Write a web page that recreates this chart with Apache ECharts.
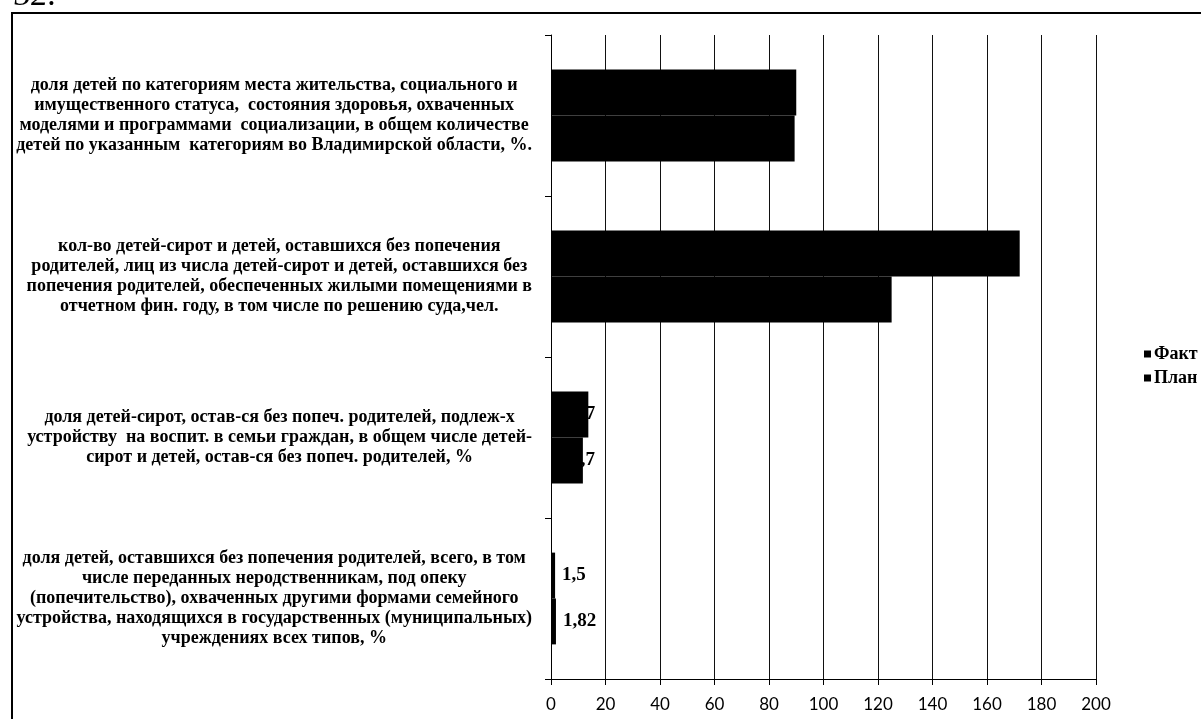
<!DOCTYPE html>
<html>
<head>
<meta charset="utf-8">
<script src="https://cdn.jsdelivr.net/npm/echarts@6/dist/echarts.min.js"></script>
<style>
html,body{margin:0;padding:0;background:#fff;}
#chart{width:1201px;height:719px;}
</style>
</head>
<body>
<div id="chart"></div>
<script>
// Categories listed bottom-to-top (as in the original Excel bar chart)
const categories = [
  ['доля детей, оставшихся без попечения родителей, всего, в том',
   'числе переданных неродственникам, под опеку',
   '(попечительство), охваченных другими формами семейного',
   'устройства, находящихся в государственных (муниципальных)',
   'учреждениях всех типов, %'],
  ['доля детей-сирот, остав-ся без попеч. родителей, подлеж-х',
   'устройству  на воспит. в семьи граждан, в общем числе детей-',
   'сирот и детей, остав-ся без попеч. родителей, %'],
  ['кол-во детей-сирот и детей, оставшихся без попечения',
   'родителей, лиц из числа детей-сирот и детей, оставшихся без',
   'попечения родителей, обеспеченных жилыми помещениями в',
   'отчетном фин. году, в том числе по решению суда,чел.'],
  ['доля детей по категориям места жительства, социального и',
   'имущественного статуса,  состояния здоровья, охваченных',
   'моделями и программами  социализации, в общем количестве',
   'детей по указанным  категориям во Владимирской области, %.']
];
const seriesNames = ['Факт', 'План'];
const faktValues = [1.5, 13.7, 172, 90];
const planValues = [1.82, 11.7, 125, 89.4];
const labelled = [true, true, false, false];
const xTicks = [0, 20, 40, 60, 80, 100, 120, 140, 160, 180, 200];

const catNames = categories.map(c => c.join('\n'));
const fmt = v => String(v).replace('.', ',');

function buildData(values, overlapShift) {
  return values.map((v, i) => {
    if (!labelled[i]) return {value: v, label: {show: false}};
    if (i === 1) {
      return {value: v, label: {show: true, position: 'insideRight', distance: 0, offset: [overlapShift, 0]}};
    }
    return {value: v, label: {show: true, position: 'right', distance: 7}};
  });
}

const labelStyle = {
  color: '#000',
  fontFamily: 'Liberation Serif',
  fontWeight: 'bold',
  fontSize: 19,
  textBorderWidth: 0,
  formatter: p => fmt(p.value)
};

const chart = echarts.init(document.getElementById('chart'), null, {renderer: 'canvas'});
chart.setOption({
  backgroundColor: '#fff',
  animation: false,
  grid: {left: 551, right: 105, top: 35, bottom: 40, containLabel: false},
  legend: {
    data: ['Факт', 'План'],
    orient: 'vertical',
    left: 1139,
    top: 340,
    itemWidth: 7,
    itemHeight: 7,
    itemGap: 6,
    icon: 'rect',
    textStyle: {fontFamily: 'Liberation Serif', fontWeight: 'bold', fontSize: 18, color: '#000', padding: [0, 0, 0, -2]}
  },
  xAxis: {
    type: 'value',
    min: 0,
    max: 200,
    interval: 20,
    axisLine: {show: true, lineStyle: {color: '#000', width: 1}},
    axisTick: {show: true, length: 6, lineStyle: {color: '#000'}},
    splitLine: {show: true, lineStyle: {color: '#111', width: 1}},
    axisLabel: {
      color: '#000', fontFamily: 'Lato', fontSize: 17, margin: 17,
      formatter: v => xTicks.indexOf(v) >= 0 ? String(v) : ''
    }
  },
  yAxis: {
    type: 'category',
    data: catNames,
    axisLine: {show: true, lineStyle: {color: '#000', width: 1}},
    axisTick: {show: true, length: 6, lineStyle: {color: '#000'}},
    axisLabel: {
      margin: 19,
      align: 'right',
      formatter: v => v.split('\n').map(l => '{c|' + l + '}').join('\n'),
      rich: {
        c: {align: 'center', fontFamily: 'Liberation Serif', fontWeight: 'bold', fontSize: 18, lineHeight: 20, color: '#000'}
      }
    }
  },
  graphic: [
    {type: 'polyline', shape: {points: [[12, 719], [12, 13], [1201, 13]]}, style: {stroke: '#000', lineWidth: 2, fill: null}},
    {type: 'text', x: 14, y: 13, style: {text: '52.', fontFamily: 'Liberation Serif', fontStyle: 'italic', fontSize: 34, fill: '#000', verticalAlign: 'bottom'}}
  ],
  series: [
    {
      name: seriesNames[0], type: 'bar', data: buildData(faktValues, 7),
      barGap: '0%', barCategoryGap: '43%',
      itemStyle: {color: '#000'},
      label: labelStyle
    },
    {
      name: seriesNames[1], type: 'bar', data: buildData(planValues, 12),
      barGap: '0%', barCategoryGap: '43%',
      itemStyle: {color: '#000'},
      label: labelStyle
    }
  ]
});
</script>
</body>
</html>
